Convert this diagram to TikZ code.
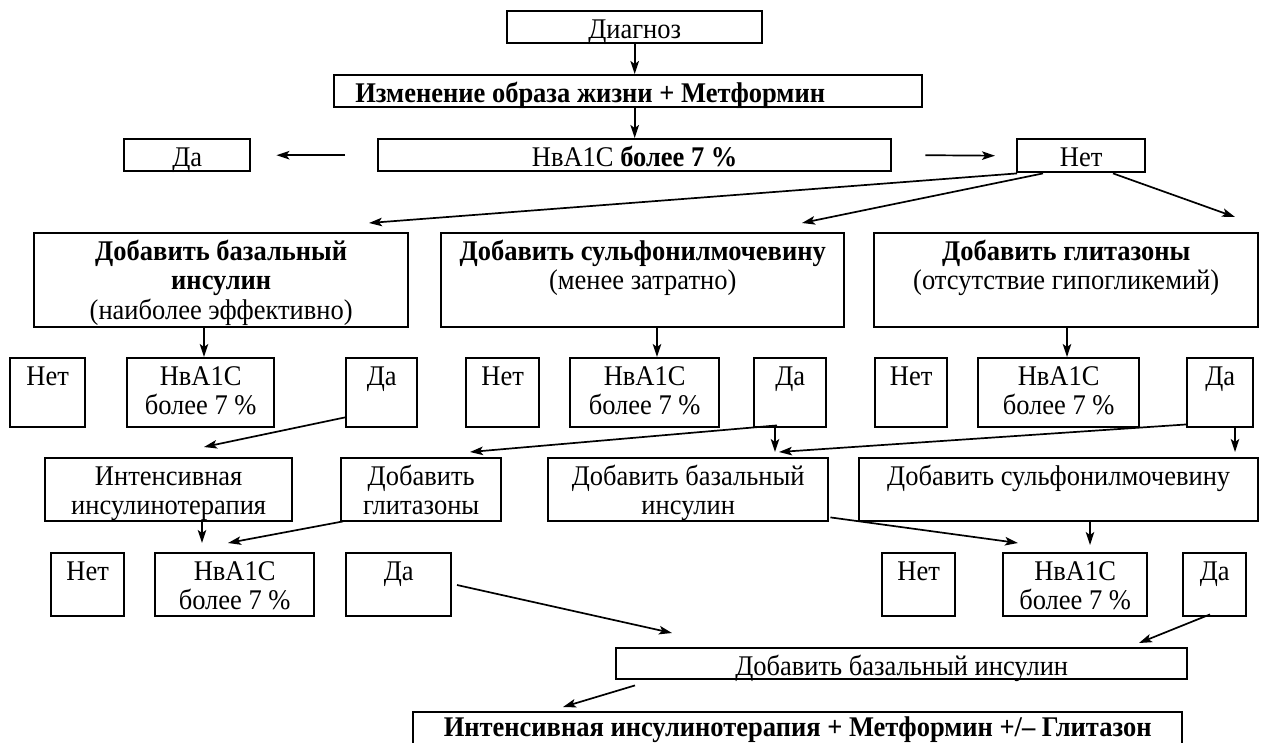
\documentclass[tikz,border=0pt]{standalone}
\usepackage{fontspec}
\setmainfont[FakeStretch=0.93]{Liberation Serif}
\usetikzlibrary{arrows.meta,calc}
\tikzset{
  box/.style={draw, line width=2.4pt, inner sep=0pt, anchor=north west,
              font=\fontsize{28.5}{29.5}\selectfont},
  arr/.style={line width=1.7pt, -{Stealth[length=13pt,width=8.5pt,inset=3pt]}},
}
\newcommand\bxb{27}
\newcommand\bx[6]{%
  \pgfmathsetmacro\bxw{#4-#2}\pgfmathsetmacro\bxh{#5-#3}%
  \node[box] (#1) at (#2pt,-#3pt)
    {\parbox[c][\bxh pt][t]{\bxw pt}{\centering\rule{0pt}{\bxb pt}#6}};}
\begin{document}
\begin{tikzpicture}
\useasboundingbox (0,0) rectangle (1263pt,-742pt);
\fill[white] (0,0) rectangle (1263pt,-742pt);
\clip (0,0) rectangle (1263pt,-742pt);
% row 1-3
\bx{diag}{506}{10}{761}{42}{Диагноз}
\bx{life}{333}{74}{921}{106}{\textbf{Изменение образа жизни + Метформин}\hspace*{76pt}}
\bx{hba0}{377}{138}{890}{170}{НвА1С \textbf{более 7 \%}}
\bx{yes0}{123}{138}{249}{170}{Да}
\bx{no0}{1016}{138}{1144}{171}{Нет}
% big boxes
\bx{b1}{33}{232}{407}{326}{\textbf{Добавить базальный}\\\textbf{инсулин}\\(наиболее эффективно)}
\bx{b2}{440}{232}{843}{326}{\textbf{Добавить сульфонилмочевину}\\(менее затратно)}
\bx{b3}{873}{232}{1257}{326}{\textbf{Добавить глитазоны}\\(отсутствие гипогликемий)}
% row 4
\bx{n1}{9}{357}{84}{426}{Нет}
\bx{h1}{126}{357}{273}{426}{НвА1С\\более 7 \%}
\bx{y1}{345}{357}{416}{426}{Да}
\bx{n2}{465}{357}{538}{426}{Нет}
\bx{h2}{569}{357}{718}{426}{НвА1С\\более 7 \%}
\bx{y2}{753}{357}{825}{426}{Да}
\bx{n3}{874}{357}{946}{426}{Нет}
\bx{h3}{977}{357}{1138}{426}{НвА1С\\более 7 \%}
\bx{y3}{1186}{357}{1252}{426}{Да}
% row 5
\bx{r5a}{44}{457}{291}{520}{Интенсивная\\инсулинотерапия}
\bx{r5b}{340}{457}{500}{520}{Добавить\\глитазоны}
\bx{r5c}{547}{457}{827}{520}{Добавить базальный\\инсулин}
\bx{r5d}{858}{457}{1257}{520}{Добавить сульфонилмочевину}
% row 6
\bx{n4}{50}{552}{123}{615}{Нет}
\bx{h4}{154}{552}{313}{615}{НвА1С\\более 7 \%}
\bx{y4}{345}{552}{450}{615}{Да}
\bx{n5}{881}{552}{954}{615}{Нет}
\bx{h5}{1002}{552}{1146}{615}{НвА1С\\более 7 \%}
\bx{y5}{1182}{552}{1245}{615}{Да}
% row 7-8
\bx{r7}{615}{647}{1186}{678}{Добавить базальный инсулин}
\renewcommand\bxb{24}
\bx{fin}{412}{711}{1181}{760}{\textbf{Интенсивная инсулинотерапия + Метформин +/– Глитазон}}
% arrows
\draw[arr] (diag.south) -- (diag.south |- life.north);
\draw[arr] (life.south -| diag.south) -- (hba0.north -| diag.south);
\draw[arr] ([xshift=-32pt]hba0.west) -- ([xshift=25pt]yes0.east);
\draw[arr] ([xshift=33pt]hba0.east) -- ([xshift=-21pt]no0.west);
\draw[arr] ([xshift=1pt]no0.south west) -- ($(b1.north west)+(336pt,9pt)$);
\draw[arr] ([xshift=27pt]no0.south west) -- ($(b2.north west)+(362pt,9pt)$);
\draw[arr] ([xshift=97pt]no0.south west) -- ($(b3.north west)+(362pt,15pt)$);
\draw[arr] ([xshift=171pt]b1.south west) -- ($(h1.north west)+(78pt,0pt)$);
\draw[arr] ([xshift=217pt]b2.south west) -- ($(h2.north west)+(88pt,0pt)$);
\draw[arr] ([xshift=194pt]b3.south west) -- ($(h3.north west)+(90pt,0pt)$);
\draw[arr] ($(y1.south west)+(0pt,11pt)$) -- ($(r5a.north west)+(160pt,10pt)$);
\draw[arr] ($(y2.south west)+(24pt,3pt)$) -- ($(r5b.north west)+(130pt,5pt)$);
\draw[arr] ([xshift=22pt]y2.south west) -- ($(r5c.north west)+(228pt,5pt)$);
\draw[arr] ($(y3.south west)+(1pt,4pt)$) -- ($(r5c.north west)+(232pt,5pt)$);
\draw[arr] ([xshift=49pt]y3.south west) -- ($(r5d.north west)+(377pt,5pt)$);
\draw[arr] ([xshift=158pt]r5a.south west) -- ($(h4.north west)+(48pt,9pt)$);
\draw[arr] ($(r5b.south west)+(3pt,1pt)$) -- ($(h4.north west)+(74pt,9pt)$);
\draw[arr] ($(r5c.south east)+(1pt,5pt)$) -- ($(h5.north west)+(16pt,9pt)$);
\draw[arr] ([xshift=232pt]r5d.south west) -- ($(h5.north west)+(88pt,7pt)$);
\draw[arr] ($(y4.north west)+(112pt,-33pt)$) -- ($(r7.north west)+(57pt,14pt)$);
\draw[arr] ($(y5.south west)+(28pt,3pt)$) -- ($(r7.north west)+(524pt,4pt)$);
\draw[arr] ($(r7.south west)+(20pt,-5pt)$) -- ($(fin.north west)+(151pt,4pt)$);
\end{tikzpicture}
\end{document}
